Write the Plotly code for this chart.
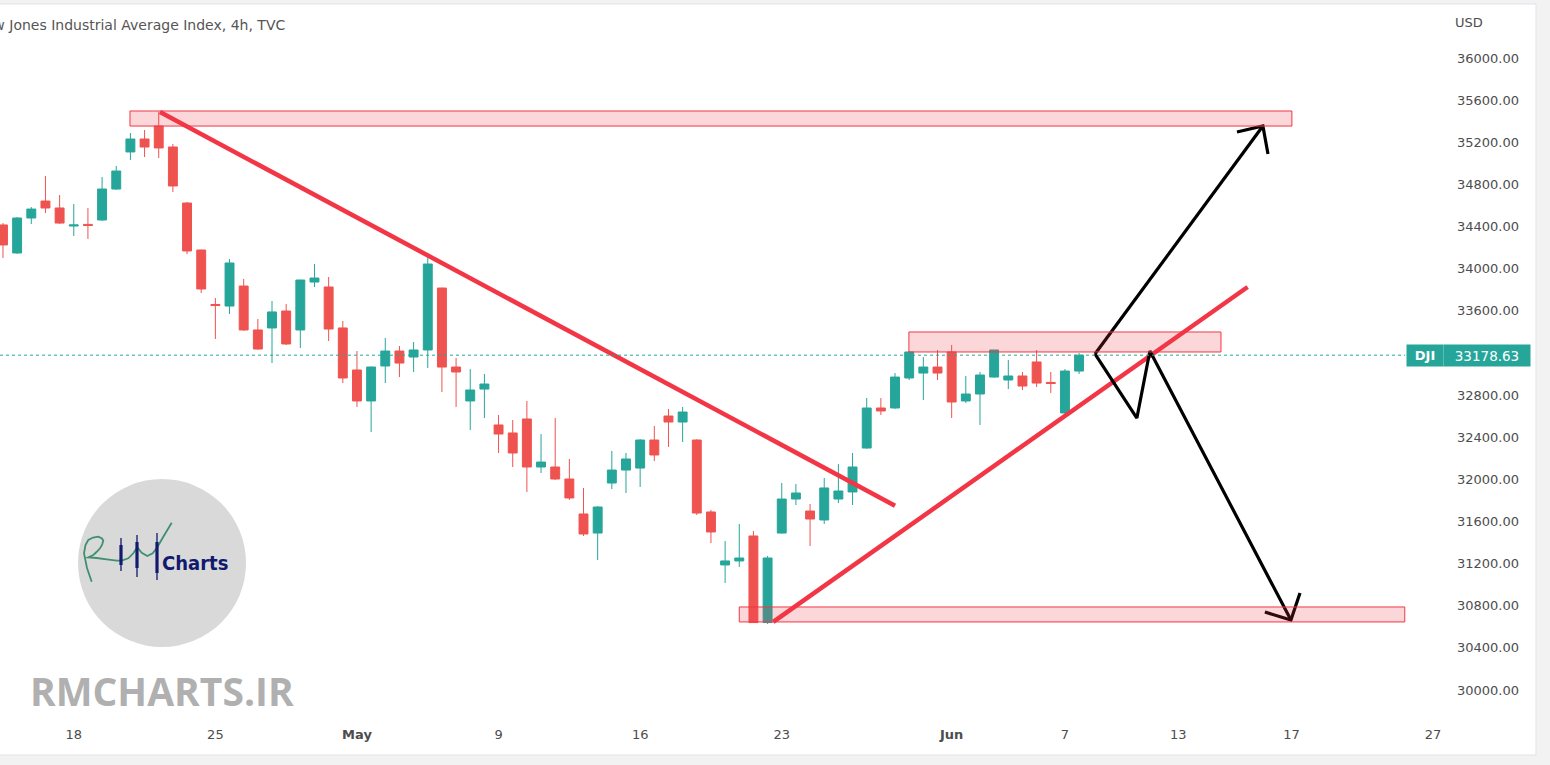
import plotly.graph_objects as go

# ---------------- data ----------------
candle_idx = list(range(77))
open_ = [34415, 34149, 34481, 34642, 34576, 34405, 34420, 34462, 34756, 35108,
         35231, 35354, 35155, 34623, 34177, 33660, 33645, 33835, 33418, 33437,
         33598, 33418, 33873, 33826, 33437, 33038, 32744, 33076, 33218, 33161,
         33228, 33816, 33066, 32744, 32857, 32516, 32440, 32573, 32117, 32117,
         32003, 31671, 31490, 31965, 32088, 32107, 32373, 32601, 32544, 32373,
         31690, 31187, 31225, 31462, 30640, 31490, 31813, 31699, 31614, 31813,
         31880, 32297, 32677, 32677, 32962, 33009, 33066, 33209, 32744, 32810,
         32971, 32943, 32981, 33114, 32920, 32630, 33028]
high_ = [34433, 34490, 34585, 34880, 34699, 34614, 34576, 34870, 34975, 35288,
         35316, 35490, 35184, 34633, 34180, 33721, 34092, 33902, 33522, 33693,
         33664, 33895, 34044, 33921, 33503, 33218, 33070, 33342, 33266, 33304,
         34120, 33820, 33152, 33047, 33000, 32611, 32563, 32744, 32430, 32582,
         32193, 31918, 31745, 32269, 32250, 32383, 32506, 32668, 32687, 32380,
         31709, 31414, 31576, 31509, 31272, 31965, 31956, 31766, 32013, 32145,
         32250, 32772, 32772, 33009, 33212, 33161, 33228, 33275, 32981, 33019,
         33228, 33133, 33019, 33228, 33019, 33047, 33199]
low_ = [34101, 34140, 34424, 34528, 34425, 34310, 34282, 34455, 34747, 35032,
        35060, 35050, 34728, 34139, 33769, 33332, 33570, 33410, 33230, 33104,
        33275, 33247, 33826, 33313, 32914, 32687, 32449, 32914, 32971, 33019,
        33057, 32829, 32687, 32468, 32582, 32250, 32117, 31880, 32060, 31995,
        31804, 31462, 31234, 31908, 31870, 31927, 32174, 32307, 32354, 31661,
        31395, 31016, 31168, 30636, 30626, 31485, 31756, 31367, 31576, 31775,
        31756, 32290, 32611, 32670, 32943, 32753, 32943, 32582, 32725, 32516,
        32965, 32857, 32848, 32876, 32820, 32625, 33000]
close_ = [34225, 34481, 34566, 34576, 34433, 34415, 34410, 34756, 34927, 35231,
          35155, 35146, 34785, 34168, 33807, 33650, 34054, 33418, 33237, 33589,
          33285, 33892, 33911, 33427, 32962, 32744, 33066, 33218, 33104, 33228,
          34044, 33066, 33019, 32848, 32905, 32430, 32250, 32117, 32164, 32003,
          31823, 31481, 31737, 32088, 32193, 32373, 32231, 32544, 32639, 31680,
          31500, 31225, 31253, 30640, 31253, 31813, 31870, 31623, 31918, 31889,
          32117, 32677, 32649, 32971, 33209, 33066, 33009, 32734, 32810, 32990,
          33228, 32981, 32886, 32914, 32910, 33028, 33178.63]

tick_idx = [5, 15, 25, 35, 45, 55, 67, 75, 83, 91, 101]
tick_text = ["18", "25", "<b>May</b>", "9", "16", "23", "<b>Jun</b>", "7", "13", "17", "27"]

price_ticks = list(range(30000, 36001, 400))
price_tick_text = [f"{p:.2f}" for p in price_ticks]

symbol = "DJI"
last_price = 33178.63

# supply / demand zones: (index from, index to, low price, high price)
zone_x0 = [8.97, 63.98, 52.0]
zone_x1 = [91.03, 86.02, 99.0]
zone_lo = [35354, 33209, 30646]
zone_hi = [35497, 33399, 30788]

# trend lines
down_trend_x = [11.09, 63.0]
down_trend_y = [35487, 31750]
up_trend_x = [54.4, 87.9]
up_trend_y = [30646, 33826]

# scenario arrows
bull_x = [77.12, 88.98]
bull_y = [33190, 35354]
bull_head_x = [87.15, 88.98, 89.34]
bull_head_y = [35297, 35354, 35089]
bear_x = [77.12, 80.08, 81.0, 90.96]
bear_y = [33190, 32582, 33218, 30664]
bear_head_x = [89.12, 90.96, 91.6]
bear_head_y = [30740, 30664, 30921]

# ---------------- styling ----------------
GREEN = "#26a69a"
RED = "#ef5350"
LINE_RED = "#f23645"
TEXT = "#4d4d4d"
FONT = "DejaVu Sans"

W, H = 1550, 765
PLOT_W, PLOT_H = 1443, 725  # plot area in pixels (left=0, top=0)


def px(xp):
    return xp / PLOT_W


def py(yp):
    return (PLOT_H - yp) / PLOT_H


fig = go.Figure()

fig.add_trace(go.Candlestick(
    x=candle_idx, open=open_, high=high_, low=low_, close=close_,
    increasing=dict(line=dict(color=GREEN, width=1), fillcolor=GREEN),
    decreasing=dict(line=dict(color=RED, width=1), fillcolor=RED),
    whiskerwidth=0, hoverinfo="skip", showlegend=False,
))

# trend lines
for xs, ys in [(down_trend_x, down_trend_y), (up_trend_x, up_trend_y)]:
    fig.add_trace(go.Scatter(x=xs, y=ys, mode="lines",
                             line=dict(color=LINE_RED, width=4.5),
                             hoverinfo="skip", showlegend=False))

# scenario arrows
for xs, ys in [(bull_x, bull_y), (bull_head_x, bull_head_y),
               (bear_x, bear_y), (bear_head_x, bear_head_y)]:
    fig.add_trace(go.Scatter(x=xs, y=ys, mode="lines",
                             line=dict(color="#000000", width=3.2),
                             hoverinfo="skip", showlegend=False))

shapes = []
# outer frame
shapes.append(dict(type="rect", xref="paper", yref="paper", layer="below",
                   x0=px(-2), x1=px(1536), y0=py(755), y1=py(4),
                   fillcolor="#ffffff", line=dict(color="#e0e3eb", width=1)))
# zones
for a, b, lo, hi in zip(zone_x0, zone_x1, zone_lo, zone_hi):
    shapes.append(dict(type="rect", xref="x", yref="y", x0=a, x1=b, y0=lo, y1=hi,
                       fillcolor="rgba(242,54,69,0.2)",
                       line=dict(color=LINE_RED, width=1), layer="above"))
# last price dotted line
shapes.append(dict(type="line", xref="paper", yref="y", x0=0, x1=px(1405),
                   y0=last_price, y1=last_price,
                   line=dict(color=GREEN, width=1, dash="dot")))

# logo circle
cx, cy, r = 162, 563, 84
shapes.append(dict(type="circle", xref="paper", yref="paper",
                   x0=px(cx - r), x1=px(cx + r), y0=py(cy + r), y1=py(cy - r),
                   fillcolor="#d9d9d9", line=dict(width=0), layer="above"))


def path_from(points):
    return "M " + " L ".join(f"{px(a):.5f},{py(b):.5f}" for a, b in points)


sig = [(91.7, 581.7), (87, 568), (84, 553.3), (85.5, 545), (88.3, 540), (93, 537.5),
       (98.3, 536.7), (102, 538.5), (103.3, 540.7), (102, 545), (100, 548.3),
       (96.5, 552), (93.3, 555), (88.3, 557.3), (96.7, 558), (106.7, 559.3),
       (116.7, 560.7), (121.7, 560.7), (128.3, 558.3), (133.3, 553.3),
       (137.3, 547.3), (141.7, 552.7), (147.3, 556), (152.7, 553.3),
       (157.3, 547.3), (163.3, 536.7), (171.7, 522.7)]
shapes.append(dict(type="path", xref="paper", yref="paper", path=path_from(sig),
                   line=dict(color="#3d9070", width=1.8), layer="above"))
navy = "#101a6e"
for xc, w_top, w_bot, b_top, b_bot in [(121, 538, 571, 545, 565),
                                       (137, 535, 577, 542, 568),
                                       (157, 533, 580, 542, 573)]:
    shapes.append(dict(type="line", xref="paper", yref="paper",
                       x0=px(xc), x1=px(xc), y0=py(w_bot), y1=py(w_top),
                       line=dict(color=navy, width=1.3), layer="above"))
    shapes.append(dict(type="line", xref="paper", yref="paper",
                       x0=px(xc), x1=px(xc), y0=py(b_bot), y1=py(b_top),
                       line=dict(color=navy, width=3.2), layer="above"))

annotations = []
annotations.append(dict(xref="paper", yref="paper", x=px(-28), y=py(25),
                        xanchor="left", yanchor="middle", showarrow=False,
                        text="Dow Jones Industrial Average Index, 4h, TVC",
                        font=dict(family=FONT, size=14, color="#555555")))
annotations.append(dict(xref="paper", yref="paper", x=px(1469), y=py(22),
                        xanchor="center", yanchor="middle", showarrow=False,
                        text="USD", font=dict(family=FONT, size=13, color=TEXT)))
annotations.append(dict(xref="paper", yref="y", x=px(1424.5), y=last_price,
                        xanchor="center", yanchor="middle", showarrow=False,
                        text=f"<b>{symbol}</b>", width=36, height=21, borderpad=0,
                        bgcolor=GREEN, font=dict(family=FONT, size=13, color="#ffffff")))
annotations.append(dict(xref="paper", yref="y", x=px(1487), y=last_price,
                        xanchor="center", yanchor="middle", showarrow=False,
                        text=f"{last_price:.2f}", width=86, height=21, borderpad=0,
                        bgcolor=GREEN, font=dict(family=FONT, size=13.5, color="#ffffff")))
annotations.append(dict(xref="paper", yref="paper", x=px(195), y=py(563),
                        xanchor="center", yanchor="middle", showarrow=False,
                        text="<b>Charts</b>",
                        font=dict(family="DejaVu Sans Condensed", size=20, color=navy)))
annotations.append(dict(xref="paper", yref="paper", x=px(28), y=py(690),
                        xanchor="left", yanchor="middle", showarrow=False,
                        text="<b>RMCHARTS.IR</b>",
                        font=dict(family="Open Sans", size=39, color="#b0b0b0")))

fig.update_layout(
    width=W, height=H, autosize=False,
    margin=dict(l=0, r=W - PLOT_W, t=0, b=H - PLOT_H),
    paper_bgcolor="#f2f2f2", plot_bgcolor="rgba(0,0,0,0)",
    shapes=shapes, annotations=annotations,
    showlegend=False, hovermode=False,
    boxgap=0.1, boxgroupgap=0.3,
    xaxis=dict(range=[-0.21, 101.7], tickvals=tick_idx, ticktext=tick_text,
               showgrid=False, zeroline=False, showline=False, ticks="",
               rangeslider=dict(visible=False),
               tickfont=dict(family=FONT, size=13, color=TEXT)),
    yaxis=dict(side="right", range=[29667.5, 36550.7], tickvals=price_ticks,
               ticktext=price_tick_text, showgrid=False, zeroline=False,
               showline=False, ticks="", ticklabelstandoff=13,
               tickfont=dict(family=FONT, size=13, color=TEXT)),
)

fig.write_html("out.html", config={"displayModeBar": False},
               post_script="document.body.style.margin='0';document.body.style.overflow='hidden';")
